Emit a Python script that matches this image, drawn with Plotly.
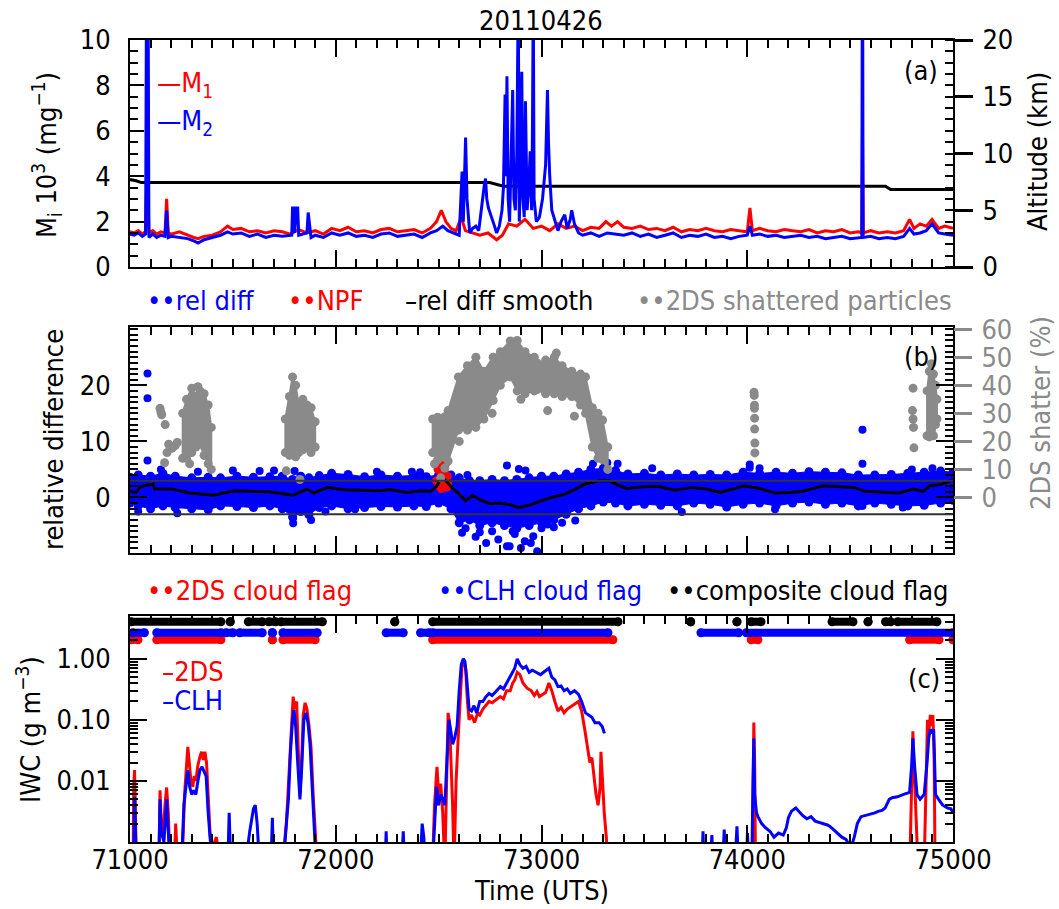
import plotly.graph_objects as go

# ---------------------------------------------------------------- data
TITLE = "20110426"
X_RANGE = [71000, 75000]
X_TICK0, X_DTICK, X_MINOR = 71000, 1000, 100

# panel (a): M1 (red), M2 (blue) [10^3 mg^-1], altitude [km]
M1_T = [71000, 71020, 71040, 71060, 71075, 71084, 71092, 71110, 71130, 71150,
        71170, 71178, 71186, 71200, 71240, 71280, 71310, 71331, 71360, 71400,
        71440, 71474, 71500, 71540, 71580, 71620, 71660, 71700, 71740, 71780,
        71820, 71860, 71900, 71940, 71980, 72020, 72060, 72100, 72140, 72180,
        72220, 72260, 72300, 72340, 72380, 72420, 72460, 72490, 72513, 72535,
        72560, 72585, 72610, 72630, 72660, 72700, 72740, 72782, 72810, 72840,
        72880, 72920, 72960, 73000, 73040, 73080, 73120, 73160, 73200, 73240,
        73280, 73313, 73340, 73370, 73400, 73440, 73480, 73520, 73560, 73600,
        73640, 73680, 73720, 73760, 73800, 73840, 73880, 73920, 73960, 74000,
        74013, 74025, 74060, 74100, 74140, 74180, 74220, 74260, 74300, 74340,
        74380, 74420, 74460, 74500, 74540, 74556, 74560, 74564, 74600, 74640,
        74680, 74720, 74760, 74789, 74810, 74840, 74870, 74898, 74930, 74960,
        75000]
M1_V = [1.55, 1.5, 1.6, 1.45, 1.55, 4.7, 1.5, 1.6, 1.45, 1.55,
        1.5, 3.0, 1.5, 1.45, 1.55, 1.4, 1.3, 1.25, 1.35, 1.4,
        1.55, 1.8, 1.65, 1.7, 1.55, 1.6, 1.5, 1.6, 1.55, 1.45,
        1.65, 1.5, 1.6, 1.45, 1.7, 1.6, 1.75, 1.55, 1.6, 1.5,
        1.65, 1.7, 1.55, 1.6, 1.65, 1.5, 1.7, 2.0, 2.5, 2.0,
        1.7, 1.6, 2.2, 1.6, 1.5, 1.4, 1.5, 1.2, 1.4, 1.9,
        1.8, 2.1, 1.7, 1.8, 1.6, 1.9, 1.7, 1.8, 1.6, 1.75,
        1.7, 2.0, 1.8, 2.0, 1.75, 1.7, 1.8, 1.65, 1.7, 1.6,
        1.75, 1.55, 1.65, 1.6, 1.7, 1.6, 1.55, 1.65, 1.6, 1.55,
        2.6, 1.6, 1.7, 1.6, 1.55, 1.65, 1.6, 1.55, 1.65, 1.5,
        1.6, 1.55, 1.65, 1.5, 1.55, 1.5, 6.0, 1.5, 1.6, 1.5,
        1.55, 1.5, 1.6, 2.1, 1.7, 1.9, 1.8, 2.1, 1.7, 1.8,
        1.7]

M2_T = [71000, 71020, 71040, 71060, 71076, 71080, 71088, 71092, 71110, 71130,
        71150, 71170, 71178, 71186, 71200, 71240, 71280, 71310, 71331, 71360,
        71400, 71440, 71474, 71500, 71540, 71580, 71620, 71660, 71700, 71740,
        71786, 71790, 71796, 71800, 71809, 71815, 71820, 71860, 71866, 71872,
        71880, 71900, 71940, 71980, 72020, 72060, 72100, 72140, 72180, 72220,
        72260, 72300, 72340, 72380, 72420, 72460, 72490, 72520, 72545, 72570,
        72600, 72608, 72614, 72620, 72626, 72631, 72638, 72651, 72665, 72681,
        72695, 72705, 72716, 72722, 72728, 72734, 72742, 72755, 72768, 72782,
        72795, 72808, 72815, 72823, 72828, 72832, 72838, 72845, 72853, 72860,
        72866, 72873, 72880, 72887, 72892, 72898, 72904, 72910, 72916, 72922,
        72930, 72938, 72945, 72952, 72956, 72960, 72964, 72975, 72990, 73005,
        73020, 73025, 73029, 73034, 73040, 73050, 73065, 73080, 73095, 73113,
        73125, 73140, 73147, 73160, 73180, 73200, 73240, 73280, 73320, 73360,
        73400, 73440, 73480, 73520, 73560, 73600, 73640, 73680, 73720, 73760,
        73800, 73840, 73880, 73920, 73960, 74000, 74013, 74025, 74060, 74100,
        74140, 74180, 74220, 74260, 74300, 74340, 74380, 74420, 74460, 74500,
        74540, 74557, 74559, 74561, 74563, 74600, 74640, 74680, 74720, 74760,
        74789, 74810, 74840, 74870, 74898, 74930, 74960, 75000]
M2_V = [1.45, 1.4, 1.5, 1.35, 1.45, 12.0, 12.0, 1.3, 1.45, 1.3,
        1.4, 1.35, 2.5, 1.3, 1.35, 1.3, 1.25, 1.15, 1.05, 1.2,
        1.3, 1.4, 1.55, 1.45, 1.5, 1.35, 1.45, 1.3, 1.4, 1.35,
        1.4, 2.6, 2.6, 1.5, 2.6, 2.6, 1.4, 1.5, 2.4, 1.8,
        1.3, 1.4, 1.3, 1.5, 1.4, 1.5, 1.35, 1.4, 1.3, 1.45,
        1.5, 1.35, 1.4, 1.45, 1.3, 1.5, 1.6, 1.8, 1.6, 1.5,
        1.4, 3.0, 4.2, 2.0, 4.5, 5.7, 3.0, 1.5, 1.7, 1.8,
        1.6, 2.4, 3.0, 3.6, 3.9, 3.0, 2.6, 2.2, 1.9, 1.5,
        1.8, 2.5, 3.5, 7.6, 4.0, 8.4, 3.0, 2.0, 4.5, 7.8,
        3.0, 2.5, 5.0, 12.0, 2.0, 4.0, 8.6, 3.0, 2.2, 7.3,
        2.5, 3.5, 5.1, 2.5, 6.0, 12.0, 3.0, 2.0, 2.2, 3.0,
        4.5, 7.0, 7.8, 5.5, 4.0, 2.5, 2.0, 1.6, 2.0, 2.3,
        1.7, 2.1, 2.5, 1.9, 1.5, 1.4, 1.5, 1.35, 1.5, 1.45,
        1.4, 1.5, 1.35, 1.45, 1.3, 1.4, 1.5, 1.3, 1.4, 1.35,
        1.45, 1.3, 1.35, 1.25, 1.35, 1.4, 1.8, 1.4, 1.45, 1.35,
        1.4, 1.3, 1.35, 1.4, 1.3, 1.35, 1.25, 1.3, 1.35, 1.25,
        1.3, 1.3, 12.0, 12.0, 1.3, 1.35, 1.25, 1.3, 1.25, 1.35,
        1.7, 1.45, 1.5, 1.6, 1.9, 1.5, 1.45, 1.4]

ALT_T = [71000, 71030, 71055, 72748, 72815, 74672, 74697, 75000]
ALT_V = [7.7, 7.6, 7.44, 7.44, 7.12, 7.12, 6.82, 6.82]

# panel (b): relative difference (dense band + outliers), NPF, smooth, shatter %
BAND_T = [71000, 71040, 71100, 71160, 71220, 71300, 71380, 71440, 71520, 71600,
          71680, 71740, 71790, 71830, 71870, 71920, 71980, 72060, 72140, 72220,
          72300, 72380, 72440, 72500, 72560, 72600, 72650, 72700, 72760, 72820,
          72880, 72940, 73000, 73060, 73120, 73180, 73240, 73300, 73360, 73420,
          73500, 73580, 73660, 73740, 73820, 73900, 73980, 74060, 74140, 74220,
          74300, 74380, 74460, 74540, 74620, 74700, 74780, 74860, 74940, 75000]
BAND_HI = [3.6, 4.0, 3.8, 4.3, 3.8, 3.5, 3.6, 3.5, 3.8, 3.6,
           3.7, 3.8, 3.2, 3.8, 3.5, 3.9, 4.3, 4.1, 3.7, 4.0,
           3.8, 3.9, 3.7, 4.0, 4.0, 3.5, 3.0, 3.0, 3.2, 3.0,
           3.2, 3.5, 3.8, 3.8, 4.2, 4.5, 5.0, 5.2, 4.8, 4.2,
           4.3, 4.0, 4.2, 4.0, 4.1, 4.0, 4.5, 4.3, 4.5, 4.3,
           4.6, 4.5, 4.4, 4.0, 4.0, 4.1, 4.3, 4.5, 4.7, 4.5]
BAND_LO = [-1.0, -1.5, -2.0, -1.5, -1.8, -2.0, -2.2, -1.5, -1.6, -1.8,
           -1.5, -2.0, -3.5, -2.5, -3.0, -1.8, -1.5, -2.0, -1.8, -1.6,
           -1.7, -1.5, -1.6, -1.0, -2.0, -4.5, -4.0, -5.0, -4.5, -5.0,
           -5.5, -5.0, -4.5, -4.0, -3.0, -2.0, -1.5, -0.8, -1.0, -1.5,
           -1.2, -1.4, -1.5, -1.0, -1.2, -1.7, -1.2, -1.0, -1.5, -1.0,
           -0.8, -1.2, -1.0, -1.5, -1.0, -1.2, -1.5, -1.4, -1.0, -0.5]

REL_OUT_T = [71085, 71085, 71085, 71150, 71330, 71040, 71230, 71500, 71630, 71700,
             71793, 71793, 71800, 71868, 71880, 71950, 72094, 72200, 72370, 72410,
             72614, 72631, 72640, 72680, 72731, 72760, 72790, 72832, 72845, 72832,
             72870, 72890, 72900, 72919, 72922, 72948, 72960, 72979, 73000, 73030,
             73060, 73100, 73164, 73250, 73320, 73370, 73538, 73682, 74012, 74012,
             74060, 74135, 74560, 74560, 74560, 74756, 74800, 74900, 72700, 72860]
REL_OUT_V = [22.1, 17.7, 6.6, 5.0, 4.6, -2.5, -2.8, 4.8, 4.7, 4.8,
             -4.6, -3.6, 4.7, -3.1, -4.0, -2.5, -2.1, 4.6, 4.6, 4.5,
             -6.3, -5.5, 4.0, -7.0, -8.1, -6.0, -7.5, -8.7, -8.7, 5.7,
             -6.5, 5.1, -9.0, -7.8, 4.8, -8.1, -6.9, -9.6, -5.5, -4.8,
             -5.3, -4.5, -4.1, 6.0, 6.2, 6.0, 5.2, -2.6, 5.9, 5.3,
             5.2, -2.1, 12.1, 6.0, -1.5, -1.8, 5.0, 5.2, -6.2, -6.0]

NPF_T = [72488, 72495, 72500, 72505, 72510, 72513, 72518, 72522, 72526, 72530,
         72535, 72540, 72544, 72546]
NPF_V = [3.0, 5.0, 2.0, 6.2, 4.0, 1.5, 5.5, 3.5, 2.2, 4.5,
         6.0, 1.8, 3.8, 2.5]

SMOOTH_T = [71000, 71030, 71050, 71080, 71105, 71113, 71120, 71205, 71290, 71406,
            71506, 71600, 71675, 71793, 71830, 71860, 71893, 71960, 72044, 72130,
            72211, 72262, 72345, 72420, 72463, 72490, 72516, 72545, 72564, 72600,
            72631, 72664, 72700, 72748, 72800, 72848, 72890, 72940, 72996, 73050,
            73113, 73160, 73214, 73280, 73331, 73370, 73415, 73490, 73566, 73649,
            73732, 73800, 73868, 73930, 73984, 74060, 74135, 74200, 74270, 74369,
            74450, 74521, 74572, 74650, 74737, 74806, 74855, 74888, 74940, 74991,
            75000]
SMOOTH_V = [1.1, 0.9, 1.9, 2.2, 2.3, 2.4, 1.5, 1.5, 0.8, 0.4,
            1.2, 1.1, 1.0, 0.4, 1.0, 1.5, 0.8, 1.8, 1.4, 1.3,
            1.2, 1.4, 0.9, 1.2, 1.1, 2.0, 3.7, 2.6, 1.8, 0.6,
            -0.6, 0.4, -0.4, -1.1, -1.0, -1.3, -1.8, -1.4, -0.6, 0.0,
            0.6, 1.4, 2.4, 3.0, 3.0, 2.2, 1.6, 1.9, 2.0, 1.3,
            1.8, 1.5, 0.9, 1.5, 2.1, 1.6, 0.8, 0.9, 1.1, 2.1,
            2.0, 1.8, 1.1, 1.0, 0.8, 1.5, 1.1, 2.1, 2.3, 3.0,
            3.1]
REF_LEVELS = [3, -3]

# 2DS shattered particles (%): dense clusters (upper/lower edges) + single points
SHAT_CLUSTERS = {
    "c2": dict(t=[71256, 71275, 71300, 71320, 71340, 71360, 71380, 71395],
               hi=[30, 35, 39, 36, 38, 37, 33, 25],
               lo=[14, 14, 16, 18, 19, 15, 12, 10]),
    "c3": dict(t=[71755, 71775, 71790, 71805, 71820, 71840, 71860, 71880, 71900],
               hi=[28, 36, 43, 40, 33, 35, 33, 32, 27],
               lo=[16, 15, 17, 14.5, 16, 17, 18, 16, 18]),
    "c4": dict(t=[72471, 72495, 72546, 72596, 72640, 72681, 72720, 72765, 72800, 72848,
                  72882, 72920, 72965, 72979, 73020, 73062, 73100, 73147, 73190, 73214,
                  73247, 73275, 73297, 73322],
               hi=[28, 28.6, 31, 43, 47, 50, 45, 50, 52, 55.8,
                   56, 52, 50, 48, 49, 50, 47, 45, 44, 43,
                   32, 30, 27.6, 18],
               lo=[16, 13.4, 13, 24, 24, 25, 28, 34.6, 40, 43,
                   38, 37, 38, 38.5, 37, 37, 36, 36, 33, 30,
                   18, 14, 13.4, 10]),
    "c6": dict(t=[74874, 74885, 74895, 74905, 74915, 74922],
               hi=[38, 45, 47.7, 44, 40, 35],
               lo=[22, 21.6, 24, 22, 26, 28]),
}
SHAT_T = [71146, 71150, 71154, 71171, 71168, 71188, 71180, 71205, 71230, 71220,
          71330, 71290, 71760, 71826, 73072, 73030, 72480, 72510, 72530, 72760,
          72900, 73160, 72600, 74033, 74034, 74035, 74035, 74036, 74036, 74037, 74037,
          74806, 74803, 74806, 74808, 74810]
SHAT_V = [31.8, 30.5, 29.5, 26, 12.4, 19, 16, 17.6, 19.6, 18.5,
          39.5, 12, 9.5, 6.4, 51.5, 31, 12, 7, 10.5, 30,
          35, 29, 20, 37.5, 36.4, 32.9, 31.8, 28.3, 24.4, 19.4, 15.9,
          39, 31, 28, 25, 17.7]

# panel (c): IWC [g m^-3]; 0.0004 = below plotted range, None = no data
IWC2DS_T = [71000, 71015, 71018, 71022, 71026, 71030, 71140, 71146, 71152, 71160,
            71170, 71178, 71186, 71195, 71215, 71222, 71232, 71255, 71265, 71275,
            71281, 71288, 71296, 71305, 71312, 71320, 71330, 71340, 71348, 71356,
            71364, 71372, 71382, 71390, 71400, 71420, 71440, 71740, 71760, 71770,
            71780, 71787, 71793, 71800, 71810, 71818, 71826, 71834, 71842, 71851,
            71860, 71870, 71880, 71890, 71900, 71910, 72470, 72480, 72492, 72500,
            72510, 72520, 72530, 72540, 72546, 72553, 72560, 72568, 72575, 72585,
            72595, 72605, 72614, 72622, 72631, 72640, 72648, 72660, 72675, 72690,
            72700, 72715, 72730, 72745, 72760, 72782, 72800, 72815, 72830, 72848,
            72860, 72870, 72882, 72895, 72910, 72930, 72950, 72965, 72978, 72990,
            73005, 73020, 73036, 73050, 73065, 73080, 73095, 73110, 73125, 73140,
            73160, 73180, 73195, 73210, 73222, 73235, 73245, 73255, 73265, 73275,
            73285, 73289, 73295, 73305, 73315, 73323, 73330, 74020, 74025, 74030,
            74032, 74036, 74040, 74050, 74780, 74790, 74800, 74805, 74810, 74820,
            74830, 74860, 74870, 74876, 74882, 74890, 74896, 74902, 74908, 74913,
            74920]
IWC2DS_V = [0.0004, 0.0004, 0.008, 0.015, 0.004, 0.0004, 0.0004, 0.007, 0.002, 0.0012,
            0.004, 0.0078, 0.003, 0.0004, 0.0004, 0.002, 0.0004, 0.0006, 0.006, 0.02,
            0.036, 0.02, 0.01, 0.008, 0.012, 0.01, 0.018, 0.025, 0.03, 0.022,
            0.03, 0.02, 0.005, 0.0012, 0.0008, 0.0012, 0.0004, 0.0004, 0.002, 0.008,
            0.05, 0.12, 0.24, 0.15, 0.2, 0.03, 0.006, 0.02, 0.12, 0.19,
            0.15, 0.08, 0.035, 0.006, 0.0012, 0.0004, 0.0004, 0.004, 0.017, 0.006,
            0.009, 0.003, 0.0004, 0.03, 0.13, 0.09, 0.02, 0.004, 0.0004, 0.01,
            0.05, 0.3, 0.8, 0.9, 0.7, 0.2, 0.1, 0.12, 0.09, 0.13,
            0.12, 0.15, 0.17, 0.2, 0.19, 0.22, 0.24, 0.22, 0.3, 0.3,
            0.4, 0.45, 0.6, 0.55, 0.4, 0.33, 0.3, 0.25, 0.29, 0.24,
            0.26, 0.28, 0.4, 0.3, 0.2, 0.14, 0.16, 0.13, 0.15, 0.16,
            0.18, 0.2, 0.14, 0.07, 0.04, 0.02, 0.024, 0.012, 0.006, 0.004,
            0.008, 0.03, 0.01, 0.003, 0.0012, 0.0004, None, None, 0.0004, 0.01,
            0.09, 0.02, 0.0004, None, None, 0.0004, 0.01, 0.065, 0.02, 0.003,
            0.0004, 0.0004, 0.02, 0.1, 0.06, 0.12, 0.08, 0.12, 0.03, 0.0004,
            None]

IWCCLH_T = [71000, 71018, 71022, 71026, 71032, 71140, 71146, 71152, 71165, 71178,
            71186, 71195, 71250, 71262, 71275, 71281, 71290, 71300, 71310, 71320,
            71330, 71340, 71350, 71360, 71370, 71380, 71390, 71400, 71440, 71475,
            71482, 71490, 71560, 71582, 71600, 71609, 71618, 71630, 71685, 71692,
            71698, 71745, 71760, 71770, 71780, 71790, 71797, 71805, 71815, 71826,
            71834, 71845, 71855, 71865, 71875, 71885, 71895, 71905, 72240, 72245,
            72250, 72320, 72328, 72335, 72410, 72420, 72428, 72435, 72470, 72480,
            72490, 72500, 72510, 72520, 72530, 72540, 72550, 72558, 72568, 72578,
            72590, 72600, 72610, 72620, 72628, 72636, 72648, 72660, 72672, 72685,
            72700, 72715, 72730, 72745, 72760, 72782, 72800, 72815, 72830, 72848,
            72860, 72870, 72882, 72895, 72910, 72925, 72940, 72955, 72978, 72995,
            73010, 73025, 73036, 73050, 73065, 73080, 73095, 73110, 73125, 73140,
            73160, 73180, 73195, 73214, 73230, 73245, 73260, 73280, 73295, 73300,
            73306, 73310, 73780, 73785, 73790, 73820, 73828, 73835, 73880, 73888,
            73895, 73940, 73950, 73958, 73995, 74001, 74008, 74022, 74028, 74032,
            74036, 74045, 74052, 74070, 74090, 74110, 74130, 74152, 74175, 74190,
            74200, 74215, 74236, 74255, 74270, 74290, 74310, 74330, 74350, 74370,
            74390, 74402, 74420, 74440, 74460, 74480, 74504, 74520, 74535, 74553,
            74575, 74600, 74620, 74640, 74655, 74670, 74690, 74704, 74730, 74760,
            74789, 74800, 74805, 74812, 74825, 74840, 74860, 74874, 74882, 74890,
            74898, 74906, 74911, 74915, 74930, 74950, 74974, 74990, 75000]
IWCCLH_V = [0.0004, 0.0004, 0.0055, 0.0015, 0.0004, 0.0004, 0.005, 0.0015, 0.001, 0.005,
            0.002, 0.0004, 0.0004, 0.004, 0.01, 0.015, 0.008, 0.006, 0.007, 0.006,
            0.01, 0.015, 0.017, 0.014, 0.012, 0.003, 0.0012, 0.0004, 0.0004, 0.0004,
            0.003, 0.0004, 0.0004, 0.0015, 0.0035, 0.004, 0.002, 0.0004, 0.0004, 0.0025,
            0.0004, 0.0004, 0.002, 0.005, 0.03, 0.1, 0.145, 0.08, 0.02, 0.005,
            0.015, 0.1, 0.13, 0.09, 0.04, 0.008, 0.002, 0.0004, 0.0004, 0.0015,
            0.0004, 0.0004, 0.0015, 0.0004, 0.0004, 0.002, 0.0012, 0.0004, 0.0004, 0.002,
            0.008, 0.004, 0.006, 0.005, 0.004, 0.02, 0.1, 0.07, 0.04, 0.05,
            0.08, 0.3, 0.8, 1.0, 0.9, 0.5, 0.15, 0.14, 0.17, 0.13,
            0.2, 0.2, 0.24, 0.27, 0.25, 0.3, 0.35, 0.32, 0.4, 0.5,
            0.6, 0.7, 1.0, 0.8, 0.7, 0.75, 0.6, 0.65, 0.59, 0.55,
            0.6, 0.65, 0.7, 0.5, 0.45, 0.35, 0.36, 0.3, 0.32, 0.27,
            0.3, 0.26, 0.2, 0.13, 0.12, 0.11, 0.09, 0.09, 0.078, 0.07,
            0.06, None, 0.0004, 0.0015, 0.0004, 0.0004, 0.0013, 0.0004, 0.0004, 0.0016,
            0.0004, 0.0004, 0.0018, 0.0004, 0.0004, 0.0014, 0.0004, 0.0004, 0.01, 0.05,
            0.006, 0.003, 0.0026, 0.002, 0.0017, 0.0015, 0.0012, 0.0014, 0.0013, 0.0017,
            0.0025, 0.0032, 0.0036, 0.003, 0.0027, 0.0024, 0.0026, 0.0022, 0.0021, 0.002,
            0.0019, 0.0018, 0.0016, 0.0014, 0.0012, 0.0011, 0.0008, 0.0012, 0.002, 0.0026,
            0.0027, 0.0029, 0.003, 0.0032, 0.0033, 0.0036, 0.005, 0.0053, 0.0055, 0.006,
            0.0065, 0.02, 0.05, 0.02, 0.006, 0.005, 0.006, 0.02, 0.05, 0.07,
            0.06, 0.07, 0.02, 0.006, 0.005, 0.004, 0.0036, 0.0035, 0.003]

# cloud flags: start / end of flagged intervals (UTS)
FLAG2DS_START = [71005, 71130, 71692, 71743, 72471, 74019, 74789, 75000]
FLAG2DS_END = [71039, 71442, 71692, 71900, 73347, 74052, 74932, 75000]
FLAGCLH_START = [71013, 71130, 71466, 71533, 71692, 71743, 72245, 72412, 72471, 73775, 73995]
FLAGCLH_END = [71070, 71442, 71500, 71643, 71692, 71910, 72328, 72454, 73323, 73958, 75000]
FLAGCOMP_START = [71005, 71487, 71575, 71674, 71734, 72287, 72471, 73725, 73950, 74019,
                  74412, 74587, 74672, 74731]
FLAGCOMP_END = [71442, 71487, 71643, 71708, 71935, 72287, 73372, 73725, 73950, 74067,
                74514, 74587, 74697, 74922]

# ---------------------------------------------------------------- style / layout
FONT = "DejaVu Sans Condensed, DejaVu Sans, sans-serif"
FS = 27
RED, BLUE, GRAY, BLACK = "#ff0000", "#0000ff", "#8a8a8a", "#000000"
W, H = 1059, 909
X0, X1 = 130 / W, 953 / W
DOM_A = [1 - 267 / H, 1 - 40 / H]
DOM_B = [1 - 553 / H, 1 - 327 / H]
DOM_C = [1 - 842 / H, 1 - 616 / H]
FLAG_Y = {"2ds": 2.05, "clh": 2.67, "comp": 4.04}


def px(x):
    return x / W


def py(y):
    return 1 - y / H


def segs(starts, ends):
    xs = []
    for s, e in zip(starts, ends):
        xs += [s, e, None]
    return xs


fig = go.Figure()

# ---- panel (a)
fig.add_trace(go.Scatter(x=ALT_T, y=ALT_V, xaxis="x", yaxis="y", mode="lines",
                         line=dict(color=BLACK, width=3)))
fig.add_trace(go.Scatter(x=M1_T, y=M1_V, xaxis="x", yaxis="y2", mode="lines",
                         line=dict(color=RED, width=3)))
fig.add_trace(go.Scatter(x=M2_T, y=M2_V, xaxis="x", yaxis="y2", mode="lines",
                         line=dict(color=BLUE, width=3)))

# ---- panel (b)
fig.add_trace(go.Scatter(x=BAND_T + BAND_T[::-1], y=BAND_HI + BAND_LO[::-1],
                         xaxis="x2", yaxis="y3", mode="lines", fill="toself",
                         fillcolor=BLUE, line=dict(color=BLUE, width=1)))
fig.add_trace(go.Scatter(x=BAND_T + BAND_T, y=BAND_HI + BAND_LO, xaxis="x2", yaxis="y3",
                         mode="markers", marker=dict(color=BLUE, size=9)))
fig.add_trace(go.Scatter(x=REL_OUT_T, y=REL_OUT_V, xaxis="x2", yaxis="y3",
                         mode="markers", marker=dict(color=BLUE, size=8)))
fig.add_trace(go.Scatter(x=NPF_T, y=NPF_V, xaxis="x2", yaxis="y3",
                         mode="markers", marker=dict(color=RED, size=8)))
fig.add_trace(go.Scatter(x=SMOOTH_T, y=SMOOTH_V, xaxis="x2", yaxis="y3", mode="lines",
                         line=dict(color=BLACK, width=3)))
for lev in REF_LEVELS:
    fig.add_shape(type="line", xref="x2", yref="y3", x0=X_RANGE[0], x1=X_RANGE[1],
                  y0=lev, y1=lev, line=dict(color="#333333", width=2))

poly_x, poly_y, edge_x, edge_y = [], [], [], []
for c in SHAT_CLUSTERS.values():
    poly_x += c["t"] + c["t"][::-1] + [c["t"][0], None]
    poly_y += c["hi"] + c["lo"][::-1] + [c["hi"][0], None]
    edge_x += c["t"] + c["t"]
    edge_y += c["hi"] + c["lo"]
fig.add_trace(go.Scatter(x=poly_x, y=poly_y, xaxis="x2", yaxis="y4", mode="lines",
                         fill="toself", fillcolor=GRAY, line=dict(color=GRAY, width=2)))
fig.add_trace(go.Scatter(x=edge_x + SHAT_T, y=edge_y + SHAT_V, xaxis="x2", yaxis="y4",
                         mode="markers", marker=dict(color=GRAY, size=9)))

# ---- panel (c)
fig.add_trace(go.Scatter(x=IWC2DS_T, y=IWC2DS_V, xaxis="x3", yaxis="y5", mode="lines",
                         line=dict(color=RED, width=3), connectgaps=False))
fig.add_trace(go.Scatter(x=IWCCLH_T, y=IWCCLH_V, xaxis="x3", yaxis="y5", mode="lines",
                         line=dict(color=BLUE, width=3), connectgaps=False))
for key, st, en, col in [("2ds", FLAG2DS_START, FLAG2DS_END, RED),
                         ("clh", FLAGCLH_START, FLAGCLH_END, BLUE),
                         ("comp", FLAGCOMP_START, FLAGCOMP_END, BLACK)]:
    xs = segs(st, en)
    ys = [None if v is None else FLAG_Y[key] for v in xs]
    fig.add_trace(go.Scatter(x=xs, y=ys, xaxis="x3", yaxis="y5", mode="lines+markers",
                             line=dict(color=col, width=8),
                             marker=dict(color=col, size=9)))


def xax(anchor, labels):
    return dict(domain=[X0, X1], anchor=anchor, range=X_RANGE, showline=True,
                linewidth=2, linecolor=BLACK, mirror="ticks", ticks="inside",
                ticklen=17, tickwidth=1.5, tickcolor=BLACK, tickmode="linear",
                tick0=X_TICK0, dtick=X_DTICK, tickformat="d", automargin=False,
                minor=dict(dtick=X_MINOR, tick0=X_TICK0, ticks="inside", ticklen=8,
                           tickwidth=1.5, tickcolor=BLACK, showgrid=False),
                showgrid=False, zeroline=False, showticklabels=labels,
                tickfont=dict(family=FONT, size=FS, color=BLACK), ticklabelstandoff=-7)


IWC_MINOR = [k * 10.0 ** e for e in (-3, -2, -1, 0) for k in range(2, 10) if k * 10.0 ** e < 5]

fig.update_layout(
    width=W, height=H, margin=dict(l=0, r=0, t=0, b=0, autoexpand=False),
    paper_bgcolor="white", plot_bgcolor="white", showlegend=False,
    font=dict(family=FONT, size=FS, color=BLACK),
    xaxis=xax("y", False), xaxis2=xax("y3", False), xaxis3=xax("y5", True),
    yaxis=dict(domain=DOM_A, anchor="x", side="right", range=[0, 20], tickmode="linear",
               tick0=0, dtick=5, ticks="outside", ticklen=18, tickwidth=2.5, tickcolor=BLACK,
               minor=dict(dtick=1, ticks="inside", ticklen=8, tickwidth=1.5, tickcolor=BLACK),
               showline=True, linewidth=2, linecolor=BLACK, showgrid=False, zeroline=False,
               automargin=False,
               tickfont=dict(family=FONT, size=FS, color=BLACK), ticklabelstandoff=4),
    yaxis2=dict(overlaying="y", anchor="x", side="left", range=[0, 10], tickmode="linear",
                tick0=0, dtick=2, ticks="inside", ticklen=14, tickwidth=1.5, tickcolor=BLACK,
                minor=dict(dtick=0.5, ticks="inside", ticklen=8, tickwidth=1.5, tickcolor=BLACK),
                showline=True, linewidth=2, linecolor=BLACK, showgrid=False, zeroline=False,
                automargin=False,
                tickfont=dict(family=FONT, size=FS, color=BLACK), ticklabelstandoff=12),
    yaxis3=dict(domain=DOM_B, anchor="x2", side="left", range=[-9.9, 30.4],
                tickvals=[0, 10, 20], ticks="inside", ticklen=17, tickwidth=1.5, tickcolor=BLACK,
                minor=dict(dtick=1, tick0=0, ticks="inside", ticklen=8, tickwidth=1.5,
                           tickcolor=BLACK),
                mirror="ticks", showline=True, linewidth=2, linecolor=BLACK, showgrid=False,
                zeroline=False, automargin=False,
                tickfont=dict(family=FONT, size=FS, color=BLACK),
                ticklabelstandoff=12),
    yaxis4=dict(overlaying="y3", anchor="x2", side="right", range=[-19.8, 60.8],
                tickvals=[0, 10, 20, 30, 40, 50, 60], ticks="outside", ticklen=18,
                tickwidth=2.5, tickcolor=GRAY, showline=False, showgrid=False,
                zeroline=False, automargin=False,
                tickfont=dict(family=FONT, size=FS, color=GRAY),
                ticklabelstandoff=4),
    yaxis5=dict(domain=DOM_C, anchor="x3", type="log", range=[-3, 0.70],
                tickvals=[0.01, 0.1, 1], ticktext=["0.01", "0.10", "1.00"],
                ticks="inside", ticklen=17, tickwidth=1.5, tickcolor=BLACK,
                minor=dict(tickmode="array", tickvals=IWC_MINOR, ticks="inside", ticklen=8,
                           tickwidth=1.5, tickcolor=BLACK),
                mirror="ticks", showline=True, linewidth=2, linecolor=BLACK, showgrid=False,
                zeroline=False, automargin=False,
                tickfont=dict(family=FONT, size=FS, color=BLACK),
                ticklabelstandoff=12),
)


def ann(text, x, y, color=BLACK, xanchor="center", angle=0, size=FS):
    fig.add_annotation(text=text, x=px(x), y=py(y), xref="paper", yref="paper",
                       xanchor=xanchor, yanchor="middle", showarrow=False, textangle=angle,
                       font=dict(family=FONT, size=size, color=color))


ann(TITLE, 541, 21)
ann("M<sub>i</sub> 10<sup>3</sup> (mg<sup>−1</sup>)", 46, 155, angle=-90)
ann("Altitude (km)", 1038, 152, angle=-90)
ann("relative difference", 53, 440, angle=-90)
ann("2DS shatter (%)", 1040, 413, color=GRAY, angle=-90)
ann("IWC (g m<sup>−3</sup>)", 28, 730, angle=-90)
ann("Time (UTS)", 541, 890)
ann("—M<sub>1</sub>", 155, 84, color=RED, xanchor="left")
ann("—M<sub>2</sub>", 155, 122, color=BLUE, xanchor="left")
ann("(a)", 921, 71)
ann("(b)", 921, 356)
ann("(c)", 924, 678)
ann("–2DS", 160, 671, color=RED, xanchor="left")
ann("–CLH", 160, 700, color=BLUE, xanchor="left")
ann("••rel diff", 145, 300, color=BLUE, xanchor="left")
ann("••NPF", 286, 300, color=RED, xanchor="left")
ann("–rel diff smooth", 403, 300, color=BLACK, xanchor="left")
ann("••2DS shattered particles", 635, 300, color=GRAY, xanchor="left")
ann("••2DS cloud flag", 145, 590, color=RED, xanchor="left")
ann("••CLH cloud flag", 436, 590, color=BLUE, xanchor="left")
ann("••composite cloud flag", 665, 590, color=BLACK, xanchor="left")

fig.write_html("out.html")
